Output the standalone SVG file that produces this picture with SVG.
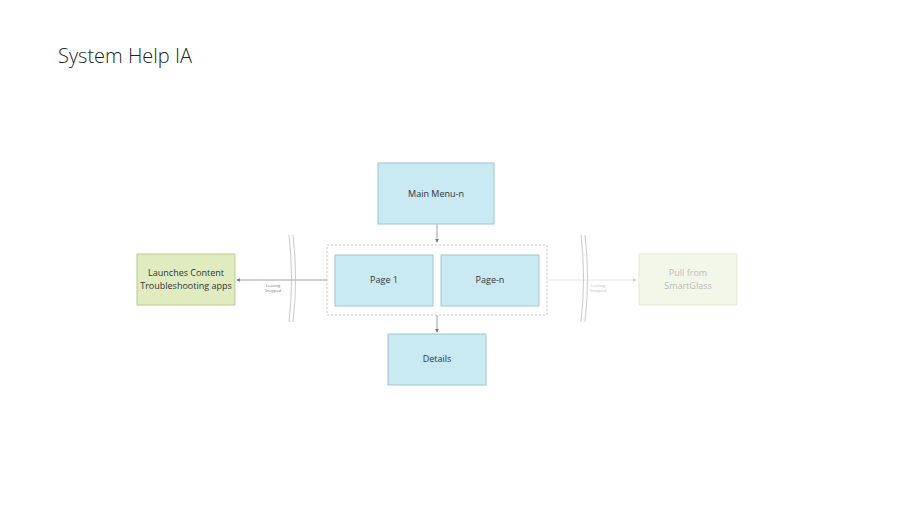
<svg xmlns="http://www.w3.org/2000/svg" width="900" height="506" viewBox="0 0 900 506">
<style>
.t{font-family:"Open Sans","Liberation Sans",sans-serif;font-size:9px;fill:#333;text-anchor:middle}
.s{font-family:"Open Sans","Liberation Sans",sans-serif;font-size:4px;fill:#777;text-anchor:middle}
.b{fill:#c9e9f3;stroke:#9cc6d3;stroke-width:1}
.c{stroke:#888;stroke-width:0.8;fill:none}
.w{stroke:#bbb;stroke-width:0.8;fill:none}
</style>
<defs><marker id="a" viewBox="0 0 6 6" refX="5" refY="3" markerWidth="5" markerHeight="5" orient="auto"><path d="M0,0L6,3L0,6z" fill="#777"/></marker>
<marker id="a2" viewBox="0 0 6 6" refX="5" refY="3" markerWidth="5" markerHeight="5" orient="auto"><path d="M0,0L6,3L0,6z" fill="#ccc"/></marker></defs>
<rect width="900" height="506" fill="#fff"/>
<text x="58" y="63" font-family="'Open Sans','Liberation Sans',sans-serif" font-size="20" font-weight="300" fill="#222">System Help IA</text>
<g id="connectors">
<line class="c" x1="437" y1="224" x2="437" y2="242" marker-end="url(#a)"/>
<line class="c" x1="437" y1="315" x2="437" y2="332" marker-end="url(#a)"/>
<line class="c" x1="327" y1="280" x2="237" y2="280" marker-end="url(#a)"/>
<line stroke="#ddd" stroke-width="0.8" x1="547" y1="280" x2="636" y2="280" marker-end="url(#a2)"/>
<path class="w" d="M289,235 Q294,278 289,322 M293,235 Q298,278 293,322"/>
<path class="w" d="M581,235 Q586,278 581,322 M585,235 Q590,278 585,322"/>
<text class="s" x="273" y="287">Leaving</text><text class="s" x="273" y="292">Snapped</text>
<text class="s" x="598" y="287" fill="#bbb" style="fill:#bbb">Leaving</text><text class="s" x="598" y="292" style="fill:#bbb">Snapped</text>
</g>
<g id="main"><rect class="b" x="378" y="163" width="116" height="61"/><text class="t" x="436" y="197">Main Menu-n</text></g>
<g id="group"><rect x="327" y="245" width="220" height="70" fill="none" stroke="#bbb" stroke-width="0.8" stroke-dasharray="2,2"/></g>
<g id="page1"><rect class="b" x="335" y="255" width="98" height="51"/><text class="t" x="384" y="283">Page 1</text></g>
<g id="pagen"><rect class="b" x="441" y="255" width="98" height="51"/><text class="t" x="490" y="283">Page-n</text></g>
<g id="details"><rect class="b" x="388" y="334" width="98" height="51"/><text class="t" x="437" y="362">Details</text></g>
<g id="launch"><rect x="137" y="254" width="98" height="51" fill="#e0ebc0" stroke="#b9cc8a"/><text class="t" x="186" y="276">Launches Content</text><text class="t" x="186" y="289">Troubleshooting apps</text></g>
<g id="pull"><rect x="639" y="254" width="98" height="51" fill="#f3f7ea" stroke="#e3ebd2"/><text class="t" x="688" y="276" style="fill:#bbb">Pull from</text><text class="t" x="688" y="289" style="fill:#bbb">SmartGlass</text></g>
</svg>
